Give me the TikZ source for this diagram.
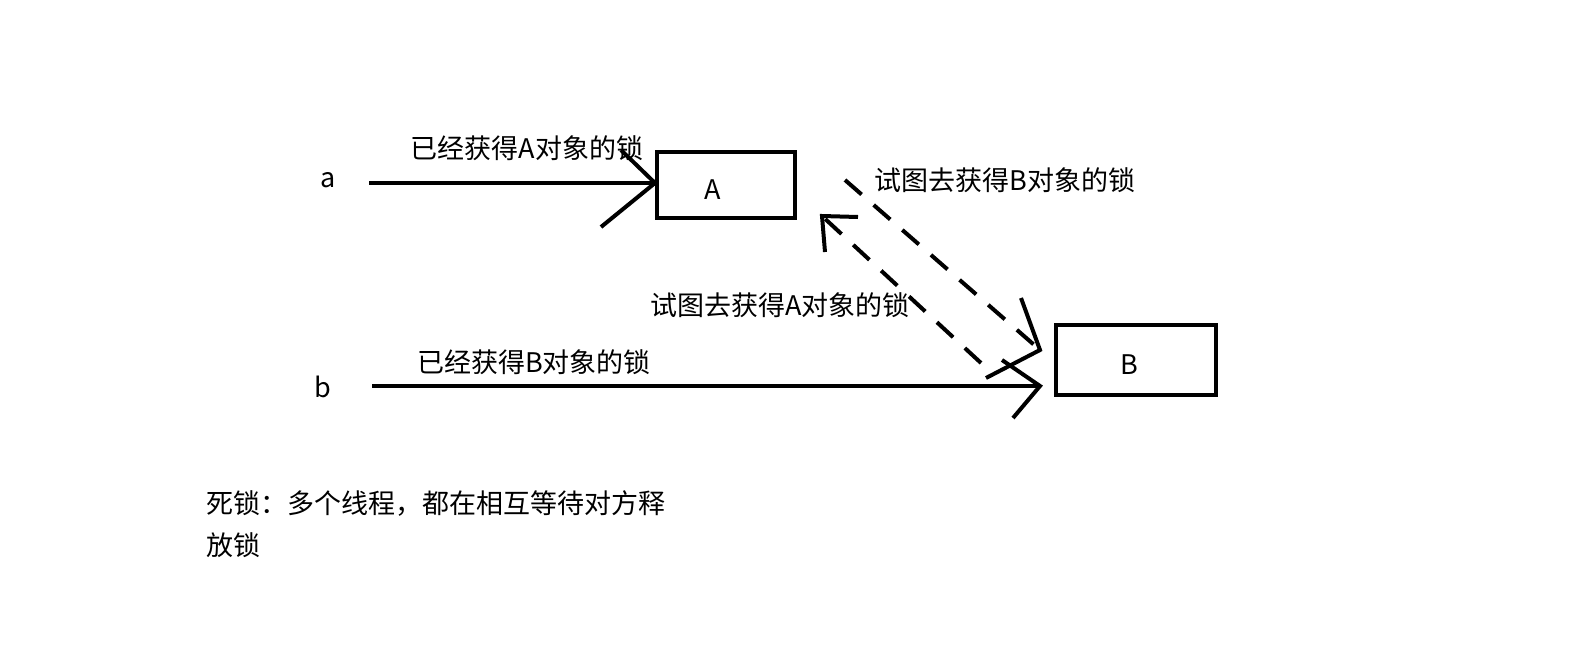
\documentclass[tikz,border=0pt]{standalone}
\usepackage{fontspec}
\setmainfont{Noto Sans CJK SC}
\usetikzlibrary{positioning}

\tikzset{
  stroke/.style={line width=2pt},
  lockbox/.style={draw,line width=2pt,minimum width=69pt,minimum height=33pt,inner sep=0pt},
  dashstroke/.style={line width=2pt,dash pattern=on 11pt off 8pt},
  caption/.style={font=\fontsize{13.5}{15}\selectfont,inner sep=0pt}
}

\begin{document}
\begin{tikzpicture}[x=0.5pt,y=-0.5pt]
        \useasboundingbox (0,0) rectangle (1584,669);

        % threads and locks
        \node[caption] (ta) at (328,180) {a};
        \node[caption] (tb) at (323,387) {b};
        \node[lockbox] (A) at (726,184.5) {};
        \node[caption] at (713,190) {A};
        \node[lockbox,minimum width=80pt,minimum height=35pt] (B) at (1136,360) {};
        \node[caption] at (1129,365) {B};

        % thread a holds A
        \coordinate (a0) at (369,183);
        \draw[stroke] (a0) -- (A.west |- a0);
        \draw[stroke] (621,150) -- (A.west |- a0) -- (601,227);
        \node[caption] (holdA) at (527,148) {已经获得A对象的锁};

        % thread b holds B
        \coordinate (b0) at (372,386);
        \coordinate (bt) at (1040,386);
        \draw[stroke] (b0) -- (bt);
        \draw[stroke] (1002,360) -- (bt) -- (1013,418);
        \node[caption] (holdB) at (534,362) {已经获得B对象的锁};

        % a wants B
        \coordinate (wb0) at (845,180);
        \coordinate (wbt) at (1040,350);
        \draw[dashstroke] (wb0) -- (wbt);
        \draw[stroke] (1021,298) -- (wbt) -- (986,378);
        \node[caption] (wantB) at (1005,180) {试图去获得B对象的锁};

        % b wants A
        \coordinate (wa0) at (981,363);
        \coordinate (wat) at (822,216);
        \draw[dashstroke] (wa0) -- (wat);
        \draw[stroke] (858,217) -- (wat) -- (825,252);
        \node[caption] (wantA) at (780,305) {试图去获得A对象的锁};

        % note
        \node[caption,anchor=north west,align=left,text width=250pt] (note) at (206,490)
          {死锁：多个线程，都在相互等待对方释\\[6pt]放锁};
\end{tikzpicture}
\end{document}
